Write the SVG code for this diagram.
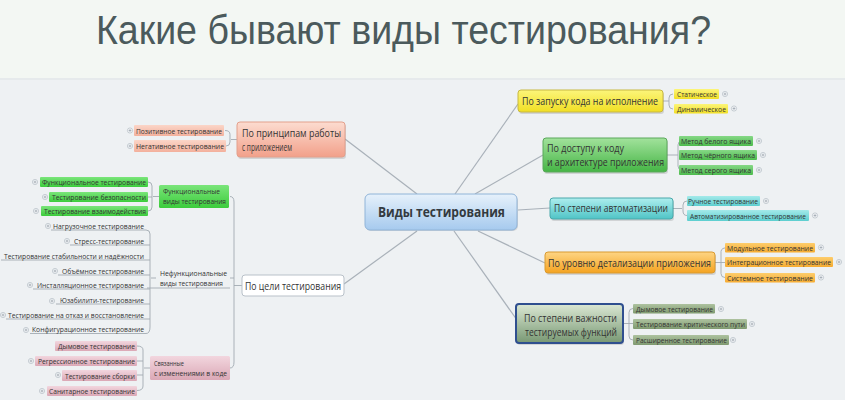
<svg xmlns="http://www.w3.org/2000/svg" width="845" height="400" viewBox="0 0 845 400">
<defs>
<linearGradient id="gBlue" x1="0" y1="0" x2="0" y2="1"><stop offset="0" stop-color="#e6f1fb"/><stop offset="1" stop-color="#a6caee"/></linearGradient>
<linearGradient id="gSalmon" x1="0" y1="0" x2="0" y2="1"><stop offset="0" stop-color="#fcdcd0"/><stop offset="1" stop-color="#f2a08a"/></linearGradient>
<linearGradient id="gSalmonC" x1="0" y1="0" x2="0" y2="1"><stop offset="0" stop-color="#fbd6c8"/><stop offset="1" stop-color="#f3b09c"/></linearGradient>
<linearGradient id="gYellow" x1="0" y1="0" x2="0" y2="1"><stop offset="0" stop-color="#fcf57a"/><stop offset="1" stop-color="#f1df24"/></linearGradient>
<linearGradient id="gGreen" x1="0" y1="0" x2="0" y2="1"><stop offset="0" stop-color="#a2e29c"/><stop offset="1" stop-color="#45b545"/></linearGradient>
<linearGradient id="gGreenC" x1="0" y1="0" x2="0" y2="1"><stop offset="0" stop-color="#86d886"/><stop offset="1" stop-color="#4dbb4d"/></linearGradient>
<linearGradient id="gBright" x1="0" y1="0" x2="0" y2="1"><stop offset="0" stop-color="#7ae57a"/><stop offset="1" stop-color="#3ccc3c"/></linearGradient>
<linearGradient id="gTeal" x1="0" y1="0" x2="0" y2="1"><stop offset="0" stop-color="#aeeeee"/><stop offset="1" stop-color="#4fc4c6"/></linearGradient>
<linearGradient id="gTealC" x1="0" y1="0" x2="0" y2="1"><stop offset="0" stop-color="#a4eaea"/><stop offset="1" stop-color="#5ccecf"/></linearGradient>
<linearGradient id="gOrange" x1="0" y1="0" x2="0" y2="1"><stop offset="0" stop-color="#fed584"/><stop offset="1" stop-color="#f4a320"/></linearGradient>
<linearGradient id="gOrangeC" x1="0" y1="0" x2="0" y2="1"><stop offset="0" stop-color="#fdcd6c"/><stop offset="1" stop-color="#f6ab30"/></linearGradient>
<linearGradient id="gSage" x1="0" y1="0" x2="0" y2="1"><stop offset="0" stop-color="#dbe8d4"/><stop offset="1" stop-color="#789873"/></linearGradient>
<linearGradient id="gOlive" x1="0" y1="0" x2="0" y2="1"><stop offset="0" stop-color="#adc29f"/><stop offset="1" stop-color="#7f9a70"/></linearGradient>
<linearGradient id="gPink" x1="0" y1="0" x2="0" y2="1"><stop offset="0" stop-color="#f2d6de"/><stop offset="1" stop-color="#dba8b6"/></linearGradient>
<symbol id="plus" viewBox="-3 -3 6 6" width="6" height="6" overflow="visible">
<circle r="2.6" fill="#f3f5f7" stroke="#aab3bc" stroke-width="0.6"/>
<path d="M-1.4 0H1.4M0 -1.4V1.4" stroke="#8a96a0" stroke-width="0.6"/>
</symbol>
</defs>
<style>
text{font-family:"Open Sans","Noto Sans","Liberation Sans",sans-serif;fill:#333;}
.title{font-family:"Liberation Sans","Arial",sans-serif;font-size:40px;fill:#4b5a5c;}
.hub{font-weight:bold;font-size:14px;fill:#333a40;}
.m{font-size:10px;}
.s{font-size:7.2px;}
.g{font-size:7.2px;}
.lk{fill:none;stroke:#a9b1b9;stroke-width:1.2;}
.br{fill:none;stroke:#a2aab2;stroke-width:0.9;}
.sh{fill:#000;opacity:0.12;}
</style>

<rect x="0" y="0" width="845" height="400" fill="#eef1f3"/>
<rect x="0" y="0" width="845" height="78" fill="#f3f7f3"/>
<rect x="0" y="78" width="845" height="2" fill="#e6eaec"/>

<text class="title" x="96" y="44" textLength="615" lengthAdjust="spacingAndGlyphs">Какие бывают виды тестирования?</text>

<g id="connectors">
<path class="lk" d="M417 194L345 139"/>
<path class="lk" d="M417 231L344 284"/>
<path class="lk" d="M455 194L518 104"/>
<path class="lk" d="M475 194L543 155"/>
<path class="lk" d="M518 210L550 208"/>
<path class="lk" d="M478 231L545 263"/>
<path class="lk" d="M454 231L517 320"/>
<!-- right brackets -->
<path class="br" d="M663 101H669M673 94Q669 94 669 98V105Q669 109 673 109"/>
<path class="br" d="M667 155H678M682 141Q678 141 678 145V166Q678 170 682 170"/>
<path class="br" d="M673 208.5H682M687 201Q683 201 683 205V211Q683 215.5 687 215.5"/>
<path class="br" d="M715 262.5H725M729 247.5Q721 247.5 721 251.5V273.5Q721 277.5 725 277.5"/>
<path class="br" d="M623 323.5H633M633 308.5Q629 308.5 629 312.5V336Q629 340 633 340"/>
<!-- left top bracket -->
<path class="br" d="M237 139.5H231M225 130.5Q230 130.5 230 134.5V142Q230 146 226 146"/>
<!-- по цели bracket -->
<path class="br" d="M242 285.5H234M230 196.5Q234 196.5 234 202V362Q234 368 230 368M230 278H234"/>
<!-- functional bracket -->
<path class="br" d="M159 196.5H153M148 182Q152 182 152 186V207Q152 211 148 211M148 197H152"/>
<!-- nonfunctional bracket -->
<path class="br" d="M156 278H151"/>
<path class="br" d="M51 230H146Q150 230 150 234V327Q150 333.5 146 333.5H30"/>
<path class="br" d="M70 245H150M1 260H150M58 275H150M33 289H150M56 304H150M6 319H150"/>
<path class="br" d="M147 288H230"/>
<!-- changes bracket -->
<path class="br" d="M150 368H144M137 346Q143 346 143 350V386Q143 390.5 137 390.5M137 361H143M137 375H143"/>
</g>

<g id="hub">
<rect x="366" y="196" width="152" height="35" rx="5" class="sh"/>
<rect x="365" y="194" width="152" height="36" rx="5" fill="url(#gBlue)" stroke="#90b4d8" stroke-width="1"/>
<text class="hub" x="378" y="217" textLength="127" lengthAdjust="spacingAndGlyphs">Виды тестирования</text>
</g>

<g id="principles">
<rect x="238" y="124" width="108" height="35" rx="3" class="sh"/>
<rect x="237" y="122" width="108" height="35" rx="3" fill="url(#gSalmon)" stroke="#e3a08c" stroke-width="1"/>
<text class="m" x="242" y="137" textLength="99" lengthAdjust="spacingAndGlyphs">По принципам работы</text>
<text class="m" x="242" y="151" textLength="50" lengthAdjust="spacingAndGlyphs">с приложением</text>
</g>
<g id="positive">
<rect x="134" y="125" width="90" height="11" rx="1" fill="url(#gSalmonC)"/>
<text class="s" x="136" y="133.5" textLength="86" lengthAdjust="spacingAndGlyphs">Позитивное тестирование</text>
<use href="#plus" x="127" y="127.5"/>
</g>
<g id="negative">
<rect x="134" y="140" width="92" height="12" rx="1" fill="url(#gSalmonC)"/>
<text class="s" x="136" y="149" textLength="88" lengthAdjust="spacingAndGlyphs">Негативное тестирование</text>
<use href="#plus" x="127" y="143"/>
</g>

<g id="goal">
<rect x="242" y="275" width="102" height="21" rx="3" fill="#ffffff" stroke="#b9c1c9" stroke-width="1"/>
<text class="m" x="245" y="289.5" textLength="96" lengthAdjust="spacingAndGlyphs">По цели тестирования</text>
</g>

<g id="functional">
<rect x="159" y="185" width="70" height="23" rx="1.5" fill="url(#gBright)"/>
<text class="g" x="163" y="194" textLength="57" lengthAdjust="spacingAndGlyphs">Функциональные</text>
<text class="g" x="163" y="204" textLength="63" lengthAdjust="spacingAndGlyphs">виды тестирования</text>
</g>
<g id="f1">
<rect x="40" y="177" width="108" height="10" rx="1" fill="url(#gBright)"/>
<text class="s" x="42" y="185" textLength="104" lengthAdjust="spacingAndGlyphs">Функциональное тестирование</text>
<use href="#plus" x="32" y="179"/>
</g>
<g id="f2">
<rect x="49" y="192" width="99" height="10" rx="1" fill="url(#gBright)"/>
<text class="s" x="52" y="200" textLength="94" lengthAdjust="spacingAndGlyphs">Тестирование безопасности</text>
<use href="#plus" x="42" y="194"/>
</g>
<g id="f3">
<rect x="41" y="206" width="107" height="10" rx="1" fill="url(#gBright)"/>
<text class="s" x="44" y="214" textLength="102" lengthAdjust="spacingAndGlyphs">Тестирование взаимодействия</text>
<use href="#plus" x="33" y="208"/>
</g>

<g id="nonfunctional">
<text class="g" x="160" y="276" textLength="67" lengthAdjust="spacingAndGlyphs">Нефункциональные</text>
<text class="g" x="160" y="286" textLength="63" lengthAdjust="spacingAndGlyphs">виды тестирования</text>
</g>
<g id="n1"><text class="s" x="53" y="228.5" textLength="91" lengthAdjust="spacingAndGlyphs">Нагрузочное тестирование</text><use href="#plus" x="45" y="223"/></g>
<g id="n2"><text class="s" x="74" y="243.5" textLength="70" lengthAdjust="spacingAndGlyphs">Стресс-тестирование</text><use href="#plus" x="64" y="238"/></g>
<g id="n3"><text class="s" x="4" y="258.5" textLength="140" lengthAdjust="spacingAndGlyphs">Тестирование стабильности и надёжности</text></g>
<g id="n4"><text class="s" x="62" y="273.5" textLength="82" lengthAdjust="spacingAndGlyphs">Объёмное тестирование</text><use href="#plus" x="52" y="268"/></g>
<g id="n5"><text class="s" x="37" y="287.5" textLength="107" lengthAdjust="spacingAndGlyphs">Инсталляционное тестирование</text><use href="#plus" x="27" y="282"/></g>
<g id="n6"><text class="s" x="60" y="302.5" textLength="84" lengthAdjust="spacingAndGlyphs">Юзабилити-тестирование</text><use href="#plus" x="49" y="298"/></g>
<g id="n7"><text class="s" x="8" y="317.5" textLength="136" lengthAdjust="spacingAndGlyphs">Тестирование на отказ и восстановление</text><use href="#plus" x="0" y="312"/></g>
<g id="n8"><text class="s" x="32" y="332" textLength="112" lengthAdjust="spacingAndGlyphs">Конфигурационное тестирование</text><use href="#plus" x="23" y="327"/></g>

<g id="changes">
<rect x="150" y="356" width="80" height="24" rx="1.5" fill="url(#gPink)"/>
<text class="g" x="154" y="366" textLength="30" lengthAdjust="spacingAndGlyphs">Связанные</text>
<text class="g" x="154" y="376" textLength="73" lengthAdjust="spacingAndGlyphs">с изменениями в коде</text>
</g>
<g id="c1"><rect x="55" y="341" width="82" height="10" rx="1" fill="url(#gPink)"/><text class="s" x="58" y="348.5" textLength="77" lengthAdjust="spacingAndGlyphs">Дымовое тестирование</text></g>
<g id="c2"><rect x="35" y="356" width="102" height="10" rx="1" fill="url(#gPink)"/><text class="s" x="38" y="363.5" textLength="97" lengthAdjust="spacingAndGlyphs">Регрессионное тестирование</text><use href="#plus" x="28" y="358"/></g>
<g id="c3"><rect x="62" y="370" width="75" height="11" rx="1" fill="url(#gPink)"/><text class="s" x="65" y="378.5" textLength="70" lengthAdjust="spacingAndGlyphs">Тестирование сборки</text><use href="#plus" x="55" y="372"/></g>
<g id="c4"><rect x="47" y="386" width="90" height="10" rx="1" fill="url(#gPink)"/><text class="s" x="49" y="393.5" textLength="86" lengthAdjust="spacingAndGlyphs">Санитарное тестирование</text><use href="#plus" x="39" y="388"/></g>

<g id="launch">
<rect x="519" y="92" width="145" height="22" rx="3" class="sh"/>
<rect x="518" y="90" width="145" height="22" rx="3" fill="url(#gYellow)" stroke="#c8b840" stroke-width="1"/>
<text class="m" x="522" y="104.5" textLength="136" lengthAdjust="spacingAndGlyphs">По запуску кода на исполнение</text>
</g>
<g id="static"><rect x="674" y="89" width="45" height="10" rx="1" fill="url(#gYellow)"/><text class="s" x="677" y="97" textLength="40" lengthAdjust="spacingAndGlyphs">Статическое</text><use href="#plus" x="722" y="91"/></g>
<g id="dynamic"><rect x="674" y="104" width="54" height="9.5" rx="1" fill="url(#gYellow)"/><text class="s" x="677" y="111.5" textLength="49" lengthAdjust="spacingAndGlyphs">Динамическое</text><use href="#plus" x="731" y="105.5"/></g>

<g id="access">
<rect x="544" y="140" width="124" height="34" rx="3" class="sh"/>
<rect x="543" y="138" width="124" height="34" rx="3" fill="url(#gGreen)" stroke="#5aa85a" stroke-width="1"/>
<text class="m" x="547" y="152" textLength="77" lengthAdjust="spacingAndGlyphs">По доступу к коду</text>
<text class="m" x="547" y="166" textLength="117" lengthAdjust="spacingAndGlyphs">и архитектуре приложения</text>
</g>
<g id="white"><rect x="679" y="136" width="74" height="10" rx="1" fill="url(#gGreenC)"/><text class="s" x="681" y="144" textLength="70" lengthAdjust="spacingAndGlyphs">Метод белого ящика</text><use href="#plus" x="756" y="138"/></g>
<g id="black"><rect x="679" y="150" width="78" height="10" rx="1" fill="url(#gGreenC)"/><text class="s" x="681" y="158" textLength="74" lengthAdjust="spacingAndGlyphs">Метод чёрного ящика</text><use href="#plus" x="760" y="152"/></g>
<g id="grey"><rect x="679" y="165" width="74" height="10" rx="1" fill="url(#gGreenC)"/><text class="s" x="681" y="173" textLength="70" lengthAdjust="spacingAndGlyphs">Метод серого ящика</text><use href="#plus" x="756" y="167"/></g>

<g id="automation">
<rect x="551" y="200" width="123" height="21" rx="3" class="sh"/>
<rect x="550" y="198" width="123" height="21" rx="3" fill="url(#gTeal)" stroke="#4aa8aa" stroke-width="1"/>
<text class="m" x="554" y="212" textLength="114" lengthAdjust="spacingAndGlyphs">По степени автоматизации</text>
</g>
<g id="manual"><rect x="687" y="196" width="73" height="10" rx="1" fill="url(#gTealC)"/><text class="s" x="688" y="204" textLength="70" lengthAdjust="spacingAndGlyphs">Ручное тестирование</text><use href="#plus" x="763" y="198"/></g>
<g id="auto"><rect x="687" y="210" width="122" height="11" rx="1" fill="url(#gTealC)"/><text class="s" x="690" y="218.5" textLength="116" lengthAdjust="spacingAndGlyphs">Автоматизированное тестирование</text><use href="#plus" x="812" y="212.5"/></g>

<g id="detail">
<rect x="546" y="254" width="170" height="21" rx="3" class="sh"/>
<rect x="545" y="252" width="170" height="21" rx="3" fill="url(#gOrange)" stroke="#d99a30" stroke-width="1"/>
<text class="m" x="548" y="266.5" textLength="163" lengthAdjust="spacingAndGlyphs">По уровню детализации приложения</text>
</g>
<g id="unit"><rect x="725" y="243" width="90" height="9.5" rx="1" fill="url(#gOrangeC)"/><text class="s" x="727" y="250.5" textLength="86" lengthAdjust="spacingAndGlyphs">Модульное тестирование</text><use href="#plus" x="818" y="244.5"/></g>
<g id="integration"><rect x="725" y="257" width="108" height="10" rx="1" fill="url(#gOrangeC)"/><text class="s" x="727" y="265" textLength="104" lengthAdjust="spacingAndGlyphs">Интеграционное тестирование</text><use href="#plus" x="836" y="259"/></g>
<g id="system"><rect x="725" y="273" width="90" height="9.5" rx="1" fill="url(#gOrangeC)"/><text class="s" x="727" y="280.5" textLength="86" lengthAdjust="spacingAndGlyphs">Системное тестирование</text><use href="#plus" x="818" y="274.5"/></g>

<g id="importance">
<rect x="517" y="306" width="107" height="39" rx="3" class="sh"/>
<rect x="516" y="304" width="107" height="39" rx="3" fill="url(#gSage)" stroke="#2f4f8f" stroke-width="2"/>
<text class="m" x="524" y="322" textLength="93" lengthAdjust="spacingAndGlyphs">По степени важности</text>
<text class="m" x="525" y="336" textLength="92" lengthAdjust="spacingAndGlyphs">тестируемых функций</text>
</g>
<g id="smoke"><rect x="633" y="304" width="82" height="9.5" rx="1" fill="url(#gOlive)"/><text class="s" x="636" y="311.5" textLength="77" lengthAdjust="spacingAndGlyphs">Дымовое тестирование</text><use href="#plus" x="718" y="306"/></g>
<g id="critical"><rect x="633" y="319" width="114" height="10" rx="1" fill="url(#gOlive)"/><text class="s" x="636" y="327" textLength="109" lengthAdjust="spacingAndGlyphs">Тестирование критического пути</text><use href="#plus" x="749" y="321"/></g>
<g id="extended"><rect x="633" y="335" width="96" height="10" rx="1" fill="url(#gOlive)"/><text class="s" x="636" y="343" textLength="91" lengthAdjust="spacingAndGlyphs">Расширенное тестирование</text><use href="#plus" x="730" y="337"/></g>
</svg>
